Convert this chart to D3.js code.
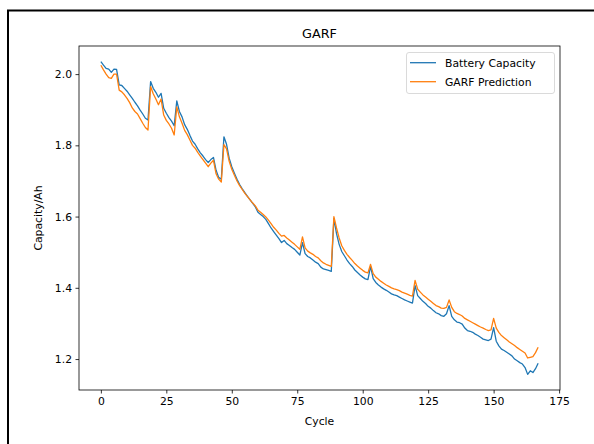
<!DOCTYPE html>
<html><head><meta charset="utf-8">
<script src="https://cdn.jsdelivr.net/npm/d3@7"></script>
<style>body{margin:0;background:#fff;} svg{display:block;} text{font-family:"DejaVu Sans",sans-serif;}</style>
</head><body><svg id="c" width="594" height="444"></svg>
<script>
const battery = [2.035,2.025,2.016,2.014,2.005,2.014,2.013,1.970,1.968,1.960,1.952,1.942,1.932,1.921,1.911,1.899,1.888,1.876,1.871,1.979,
1.960,1.949,1.935,1.946,1.904,1.890,1.878,1.868,1.855,1.925,1.895,1.880,1.858,1.845,1.828,1.812,1.803,1.790,1.779,1.770,
1.760,1.752,1.760,1.766,1.730,1.710,1.705,1.824,1.803,1.764,1.740,1.722,1.705,1.690,1.678,1.667,1.657,1.647,1.637,1.627,
1.612,1.606,1.600,1.592,1.580,1.568,1.558,1.548,1.538,1.527,1.533,1.524,1.519,1.513,1.508,1.500,1.492,1.527,1.496,1.488,
1.484,1.478,1.472,1.468,1.458,1.453,1.451,1.449,1.446,1.595,1.552,1.522,1.502,1.490,1.478,1.468,1.460,1.450,1.443,1.436,
1.430,1.425,1.423,1.460,1.426,1.415,1.408,1.402,1.397,1.393,1.388,1.383,1.380,1.378,1.374,1.370,1.366,1.363,1.360,1.357,
1.406,1.378,1.370,1.362,1.356,1.348,1.343,1.336,1.330,1.327,1.322,1.320,1.327,1.350,1.320,1.310,1.304,1.302,1.298,1.287,
1.280,1.278,1.275,1.270,1.266,1.261,1.256,1.254,1.252,1.256,1.288,1.250,1.237,1.228,1.224,1.219,1.214,1.209,1.200,1.195,
1.190,1.186,1.176,1.157,1.167,1.162,1.173,1.188];
const garf = [2.025,2.012,2.000,1.990,1.988,2.000,2.000,1.955,1.950,1.942,1.932,1.920,1.905,1.895,1.888,1.875,1.862,1.850,1.843,1.965,
1.945,1.930,1.914,1.930,1.885,1.870,1.860,1.848,1.829,1.908,1.880,1.862,1.842,1.830,1.815,1.800,1.792,1.780,1.770,1.760,
1.750,1.740,1.750,1.758,1.720,1.705,1.697,1.802,1.790,1.755,1.733,1.716,1.700,1.687,1.676,1.665,1.656,1.647,1.638,1.630,
1.618,1.612,1.606,1.599,1.590,1.580,1.570,1.562,1.553,1.545,1.547,1.540,1.534,1.528,1.522,1.515,1.508,1.543,1.512,1.503,
1.498,1.494,1.488,1.484,1.476,1.470,1.466,1.463,1.460,1.600,1.568,1.540,1.518,1.505,1.494,1.485,1.477,1.468,1.461,1.455,
1.449,1.444,1.442,1.466,1.440,1.430,1.424,1.418,1.413,1.408,1.404,1.400,1.397,1.395,1.392,1.388,1.385,1.382,1.379,1.377,
1.421,1.396,1.388,1.380,1.374,1.368,1.362,1.356,1.350,1.347,1.343,1.342,1.345,1.366,1.345,1.333,1.328,1.325,1.321,1.314,
1.310,1.306,1.302,1.298,1.294,1.290,1.287,1.283,1.280,1.282,1.314,1.287,1.275,1.266,1.260,1.254,1.248,1.243,1.238,1.232,
1.227,1.222,1.217,1.203,1.205,1.207,1.218,1.233];
const xTicks = [0,25,50,75,100,125,150,175];
const yTicks = [1.2,1.4,1.6,1.8,2.0];
const seriesNames = ["Battery Capacity","GARF Prediction"];
const colors = ["#1f77b4","#ff7f0e"];
const title = "GARF", xLabel = "Cycle", yLabel = "Capacity/Ah";

const svg = d3.select("#c");
const L = 79, R = 560, T = 46, B = 390;
const n = battery.length;
const allV = battery.concat(garf);
const ymin = d3.min(allV), ymax = d3.max(allV);
const ypad = (ymax - ymin) * 0.05, xpad = (n - 1) * 0.05;
const x = d3.scaleLinear().domain([-xpad, n - 1 + xpad]).range([L, R]);
const y = d3.scaleLinear().domain([ymin - ypad, ymax + ypad]).range([B, T]);

// outer frame
svg.append("rect").attr("x", 8).attr("y", 10.5).attr("width", 700).attr("height", 500)
  .attr("fill", "none").attr("stroke", "#000").attr("stroke-width", 2);

const line = d3.line().x((d, i) => x(i)).y(d => y(d));
[battery, garf].forEach((s, k) => {
  svg.append("path").datum(s).attr("d", line).attr("fill", "none")
    .attr("stroke", colors[k]).attr("stroke-width", 1.3).attr("stroke-linejoin", "round");
});

const xa = svg.append("g").attr("transform", `translate(0,${B})`)
  .call(d3.axisBottom(x).tickValues(xTicks).tickFormat(d3.format("d")).tickSizeOuter(0).tickSize(3.5).tickPadding(3.5));
const ya = svg.append("g").attr("transform", `translate(${L},0)`)
  .call(d3.axisLeft(y).tickValues(yTicks).tickFormat(d3.format(".1f")).tickSizeOuter(0).tickSize(3.5).tickPadding(3.5));
[xa, ya].forEach(a => {
  a.select(".domain").remove();
  a.selectAll("text").attr("font-size", 10.8).attr("fill", "#000").attr("font-family", "DejaVu Sans");
  a.selectAll("line").attr("stroke", "#000").attr("stroke-width", 0.8);
});
svg.append("rect").attr("x", L).attr("y", T).attr("width", R - L).attr("height", B - T)
  .attr("fill", "none").attr("stroke", "#000").attr("stroke-width", 0.8);

svg.append("text").attr("x", (L + R) / 2).attr("y", 38).attr("text-anchor", "middle")
  .attr("font-size", 12.8).text(title);
svg.append("text").attr("x", (L + R) / 2).attr("y", 425).attr("text-anchor", "middle")
  .attr("font-size", 10.8).text(xLabel);
svg.append("text").attr("transform", `translate(42,${(T + B) / 2}) rotate(-90)`).attr("text-anchor", "middle")
  .attr("font-size", 10.8).text(yLabel);

// legend
const lg = svg.append("g");
lg.append("rect").attr("x", 406.5).attr("y", 52.5).attr("width", 148).attr("height", 41).attr("rx", 2.5)
  .attr("fill", "#fff").attr("fill-opacity", 0.8).attr("stroke", "#d0d0d0").attr("stroke-width", 0.8);
seriesNames.forEach((nm, k) => {
  const yy = 62.7 + k * 19;
  lg.append("line").attr("x1", 410).attr("x2", 436).attr("y1", yy).attr("y2", yy)
    .attr("stroke", colors[k]).attr("stroke-width", 1.3);
  lg.append("text").attr("x", 445).attr("y", yy + 4).attr("font-size", 10.8).text(nm);
});
</script></body></html>
